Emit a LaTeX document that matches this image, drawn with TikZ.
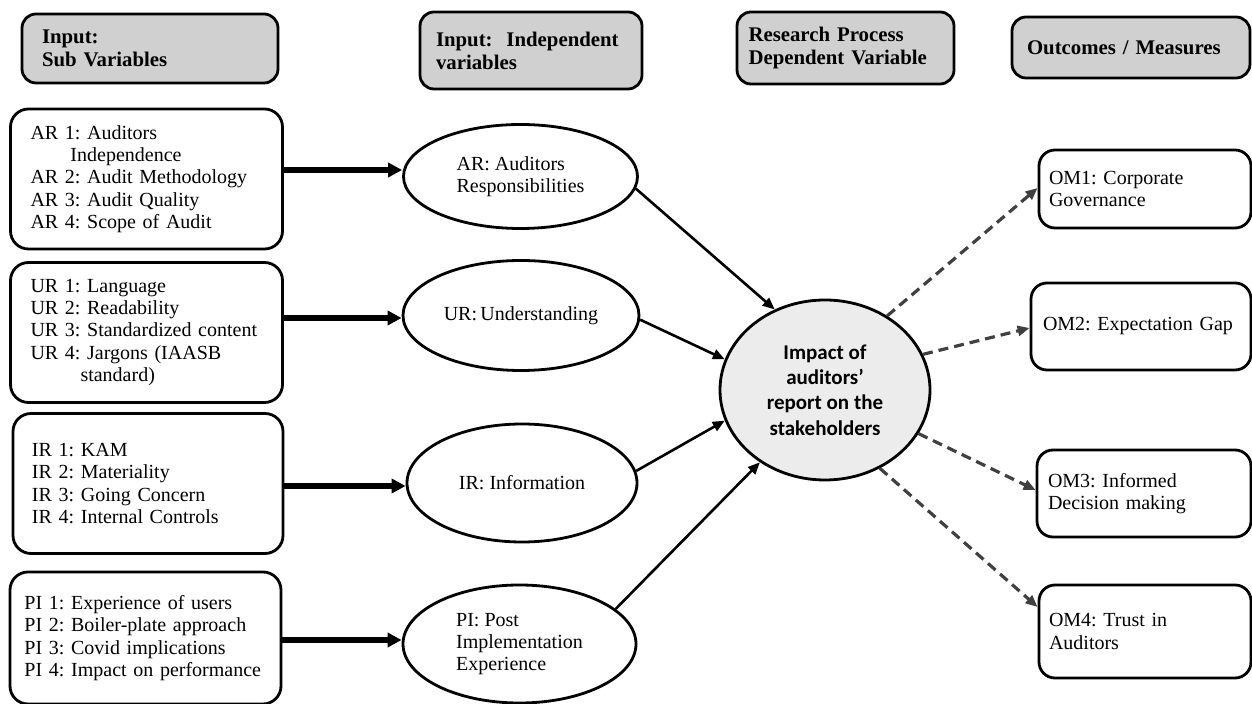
\documentclass[tikz,border=0pt]{standalone}
\usepackage{fontspec}
\setmainfont{Liberation Serif}
\newfontfamily\circfont{Carlito}
\usetikzlibrary{positioning}
\usetikzlibrary{shapes.geometric}
\usetikzlibrary{arrows.meta}
\frenchspacing

\definecolor{headgray}{RGB}{208,208,208}
\definecolor{circgray}{RGB}{236,236,236}
\definecolor{dashgray}{RGB}{64,64,64}

\tikzset{
  headbox/.style={draw,fill=headgray,rounded corners=7pt,line width=1.4pt,
    font=\bfseries\fontsize{10.4}{11.5}\selectfont,align=left},
  subbox/.style={draw,rounded corners=9pt,line width=1.4pt,
    minimum width=136pt,minimum height=70pt,text width=116pt,align=left,
    font=\fontsize{10}{11.2}\selectfont},
  varell/.style={draw,ellipse,line width=1.4pt,inner sep=0pt,
    font=\fontsize{10}{11.2}\selectfont,align=left},
  outbox/.style={draw,rounded corners=8pt,line width=1.4pt,
    minimum width=106pt,text width=96pt,align=left,
    font=\fontsize{10}{11.2}\selectfont},
  fatlink/.style={line width=2.6pt,-{Triangle[length=7pt,width=7pt]}},
  solidlink/.style={line width=1.3pt,-{Triangle[length=6pt,width=5pt]}},
  dashlink/.style={dashgray,line width=1.6pt,dash pattern=on 5pt off 3pt,
    -{Triangle[length=6pt,width=5pt]}}
}

\begin{document}
\begin{tikzpicture}[x=0.5pt,y=-0.5pt]
  \useasboundingbox (0,0) rectangle (1252,704);

  % headers
  \node[headbox,minimum width=128pt,minimum height=34.5pt,text width=108pt] (h1) at (150,48.5) {Input:\\Sub Variables};
  \node[headbox,minimum width=111pt,minimum height=38.5pt,text width=95pt] (h2) at (531,50.5) {Input:\ \ Independent\\variables};
  \node[headbox,minimum width=108.5pt,minimum height=36pt,text width=97pt] (h3) at (845.5,48) {Research Process\\Dependent Variable};
  \node[headbox,minimum width=119pt,minimum height=30.5pt,text width=104pt] (h4) at (1131,47.5) {Outcomes / Measures};

  % sub variables
  \node[subbox] (ar) at (146.5,179) {AR 1: Auditors\\\hspace{20pt}Independence\\AR 2: Audit Methodology\\AR 3: Audit Quality\\AR 4: Scope of Audit};
  \node[subbox] (ur) at (146.5,332.5) {UR 1: Language\\UR 2: Readability\\UR 3: Standardized content\\UR 4: Jargons (IAASB\\\hspace{25pt}standard)};
  \node[subbox,minimum width=135pt] (ir) at (148,483.5) {IR 1: KAM\\IR 2: Materiality\\IR 3: Going Concern\\IR 4: Internal Controls};
  \node[subbox,minimum width=135.5pt,minimum height=66pt,text width=121pt] (pi) at (145.5,638) {PI 1: Experience of users\\PI 2: Boiler-plate approach\\PI 3: Covid implications\\PI 4: Impact on performance};

  % independent variables
  \node[varell,minimum width=117pt,minimum height=52pt] (arv) at (520.5,176.5) {AR: Auditors\\Responsibilities};
  \node[varell,minimum width=118pt,minimum height=55pt] (urv) at (521,315.5) {UR:\,Understanding};
  \node[varell,minimum width=115pt,minimum height=59pt] (irv) at (522,483) {IR: Information};
  \node[varell,minimum width=116.5pt,minimum height=59pt] (piv) at (519.5,644) {PI: Post\\Implementation\\Experience};

  % dependent variable
  \node[draw,ellipse,fill=circgray,line width=1.4pt,minimum width=105pt,minimum height=90pt,
    inner sep=0pt,align=center,font=\circfont\bfseries\fontsize{10.5}{12.6}\selectfont] (imp) at (825,390)
    {Impact of\\auditors’\\report on the\\stakeholders};

  % outcomes
  \node[outbox,minimum height=39pt] (om1) at (1145,189) {OM1: Corporate\\Governance};
  \node[outbox,minimum width=110pt,text width=98pt,minimum height=43.5pt] (om2) at (1141,326.5) {OM2: Expectation Gap};
  \node[outbox,minimum width=107pt,minimum height=43.5pt] (om3) at (1144,493.5) {OM3: Informed\\Decision making};
  \node[outbox,minimum height=46.5pt] (om4) at (1145,631.5) {OM4: Trust in\\Auditors};

  % inputs to variables
  \draw[fatlink] (ar.east |- 0,170) -- (arv.west |- 0,170);
  \draw[fatlink] (ur.east |- 0,318) -- (urv.west |- 0,318);
  \draw[fatlink] (ir.east |- 0,486) -- (irv.west |- 0,486);
  \draw[fatlink] (pi.east |- 0,640) -- (piv.west |- 0,640);

  % variables to impact
  \draw[solidlink] (arv.-6) -- (imp.122);
  \draw[solidlink] (urv.-2) -- (imp.163);
  \draw[solidlink] (irv.6) -- (imp.197);
  \draw[solidlink] (piv.20) -- (imp.228);

  % impact to outcomes
  \draw[dashlink] (imp.50) -- (om1.west |- 0,188);
  \draw[dashlink] (imp.20) -- (om2.west |- 0,328);
  \draw[dashlink] (imp.-25) -- (om3.west |- 0,490);
  \draw[dashlink] (imp.-55) -- (om4.west |- 0,607);
\end{tikzpicture}
\end{document}
